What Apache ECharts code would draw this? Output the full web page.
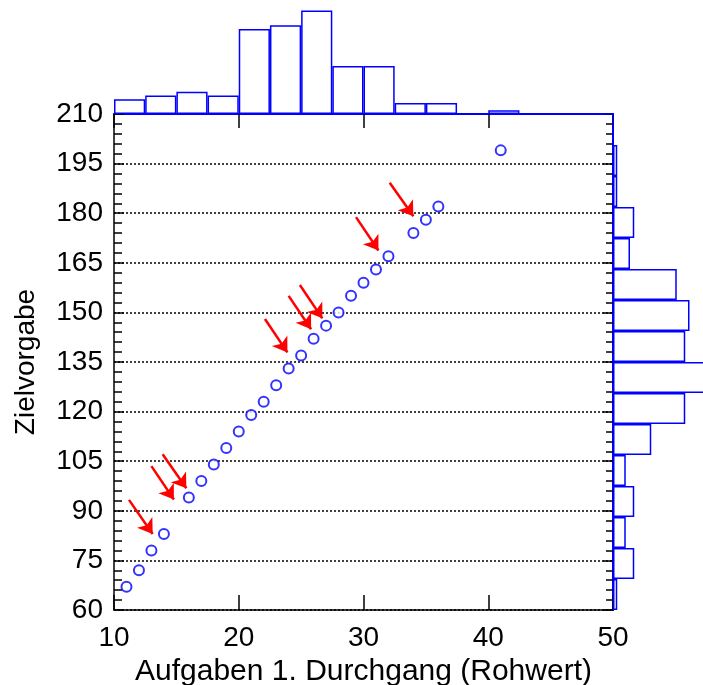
<!DOCTYPE html>
<html>
<head>
<meta charset="utf-8">
<script src="https://cdn.jsdelivr.net/npm/echarts@6/dist/echarts.min.js"></script>
<style>
  html, body { margin: 0; padding: 0; background: #fff; }
  #main { width: 703px; height: 685px; }
</style>
</head>
<body>
<div id="main"></div>
<script>
// Streudiagramm mit Randhistogrammen
var punkte = [
  [11, 67], [12, 72], [13, 78], [14, 83], [16, 94], [17, 99], [18, 104],
  [19, 109], [20, 114], [21, 119], [22, 123], [23, 128], [24, 133], [25, 137],
  [26, 142], [27, 146], [28, 150], [29, 155], [30, 159], [31, 163], [32, 167],
  [34, 174], [35, 178], [36, 182], [41, 199]
];
// Histogramm oben: Klassen zu 2.5 von 10 bis 50
var xKlassen = ['10-12.5','12.5-15','15-17.5','17.5-20','20-22.5','22.5-25','25-27.5','27.5-30',
                '30-32.5','32.5-35','35-37.5','37.5-40','40-42.5','42.5-45','45-47.5','47.5-50'];
var xHaeufigkeit = [4, 5, 6, 5, 23, 24, 28, 13, 13, 3, 3, 0, 1, 0, 0, 0];
// Histogramm rechts: 16 Klassen von 60 bis 210 (von unten nach oben)
var yKlassen = ['60','69.4','78.8','88.1','97.5','106.9','116.3','125.6',
                '135','144.4','153.8','163.1','172.5','181.9','191.3','200.6'];
var yHaeufigkeit = [1, 5, 3, 5, 3, 9, 17, 24, 17, 18, 15, 4, 5, 1, 1, 0];
// Pfeile: [x0, y0, x1, y1]
var pfeile = [
  [11.2, 93.3, 13.1, 83.0],
  [13.0, 103.5, 14.8, 93.4],
  [13.9, 107.1, 15.8, 96.8],
  [22.1, 148.0, 23.9, 137.9],
  [24.0, 155.0, 25.8, 144.9],
  [24.9, 158.3, 26.7, 148.2],
  [29.4, 178.8, 31.2, 168.7],
  [32.1, 189.2, 34.0, 179.1]
];

var blau = '#0000ff';
var schrift = 'Liberation Sans, Arial, sans-serif';

var myChart = echarts.init(document.getElementById('main'), null, {renderer: 'canvas'});

var histStil = {
  color: '#ffffff',
  borderColor: blau,
  borderWidth: 1.5
};

var option = {
  animation: false,
  backgroundColor: '#fff',
  grid: [
    { left: 114, top: 114, width: 499, height: 496, outerBoundsMode: 'none' },
    { left: 114, top: 0, width: 499, height: 114, outerBoundsMode: 'none' },
    { left: 613, top: 114, width: 102, height: 496, outerBoundsMode: 'none' }
  ],
  xAxis: [
    {
      gridIndex: 0, type: 'value', min: 10, max: 50, interval: 10, position: 'bottom',
      name: 'Aufgaben 1. Durchgang (Rohwert)', nameLocation: 'middle', nameGap: 44,
      nameTextStyle: { fontFamily: schrift, fontSize: 30, color: '#000' },
      axisLine: { lineStyle: { color: '#000', width: 1.5 } },
      axisTick: { inside: true, length: 15, lineStyle: { color: '#000', width: 1.5 } },
      axisLabel: { fontFamily: schrift, fontSize: 28, color: '#000', margin: 14 },
      splitLine: { show: false }
    },
    {
      gridIndex: 0, type: 'value', min: 10, max: 50, interval: 10, position: 'top',
      axisLine: { show: false },
      axisTick: { inside: true, length: 14, lineStyle: { color: '#000', width: 1.5 } },
      axisLabel: { show: false },
      splitLine: { show: false }
    },
    {
      gridIndex: 1, type: 'category', data: xKlassen,
      axisLine: { lineStyle: { color: blau, width: 2 } },
      axisTick: { show: false }, axisLabel: { show: false }
    },
    {
      // 4.25 px je Fall; die höchste Klasse ragt über den Bildrand
      gridIndex: 2, type: 'value', min: 0, max: 24, show: false
    }
  ],
  yAxis: [
    {
      gridIndex: 0, type: 'value', min: 60, max: 210, interval: 15, position: 'left',
      name: 'Zielvorgabe', nameLocation: 'middle', nameGap: 74, nameRotate: 90,
      nameTextStyle: { fontFamily: schrift, fontSize: 28, color: '#000' },
      axisLine: { lineStyle: { color: '#000', width: 1.5 } },
      axisTick: { inside: true, length: 10, lineStyle: { color: '#000', width: 1.5 } },
      minorTick: { show: true, splitNumber: 5, length: 8, lineStyle: { color: '#000', width: 1.5 } },
      axisLabel: { fontFamily: schrift, fontSize: 28, color: '#000', margin: 11 },
      splitLine: { show: true, lineStyle: { color: '#000', width: 1.5, type: [2, 2] } }
    },
    {
      gridIndex: 0, type: 'value', min: 60, max: 210, interval: 15, position: 'right',
      axisLine: { lineStyle: { color: '#000', width: 1.5 } },
      axisTick: { inside: true, length: 10, lineStyle: { color: '#000', width: 1.5 } },
      minorTick: { show: true, splitNumber: 5, length: 7, lineStyle: { color: '#000', width: 1.5 } },
      axisLabel: { show: false },
      splitLine: { show: false }
    },
    {
      gridIndex: 1, type: 'value', min: 0, max: 114 / 3.7, show: false
    },
    {
      gridIndex: 2, type: 'category', data: yKlassen,
      axisLine: { lineStyle: { color: blau, width: 2 } },
      axisTick: { show: false }, axisLabel: { show: false }
    }
  ],
  series: [
    {
      type: 'bar', xAxisIndex: 2, yAxisIndex: 2, data: xHaeufigkeit,
      barCategoryGap: '0%', itemStyle: histStil, silent: true
    },
    {
      type: 'bar', xAxisIndex: 3, yAxisIndex: 3, data: yHaeufigkeit,
      barCategoryGap: '0%', itemStyle: histStil, silent: true
    },
    {
      type: 'scatter', xAxisIndex: 0, yAxisIndex: 0, data: punkte,
      symbol: 'emptyCircle', symbolSize: 10,
      itemStyle: { color: blau, borderWidth: 1.6 }
    },
    {
      type: 'lines', coordinateSystem: 'cartesian2d', xAxisIndex: 0, yAxisIndex: 0,
      symbol: ['none', 'arrow'], symbolSize: 14,
      lineStyle: { color: '#ff0000', width: 2.5, opacity: 1 },
      data: pfeile.map(function (p) {
        return { coords: [[p[0], p[1]], [p[2], p[3]]] };
      })
    }
  ]
};

myChart.setOption(option);
</script>
</body>
</html>
